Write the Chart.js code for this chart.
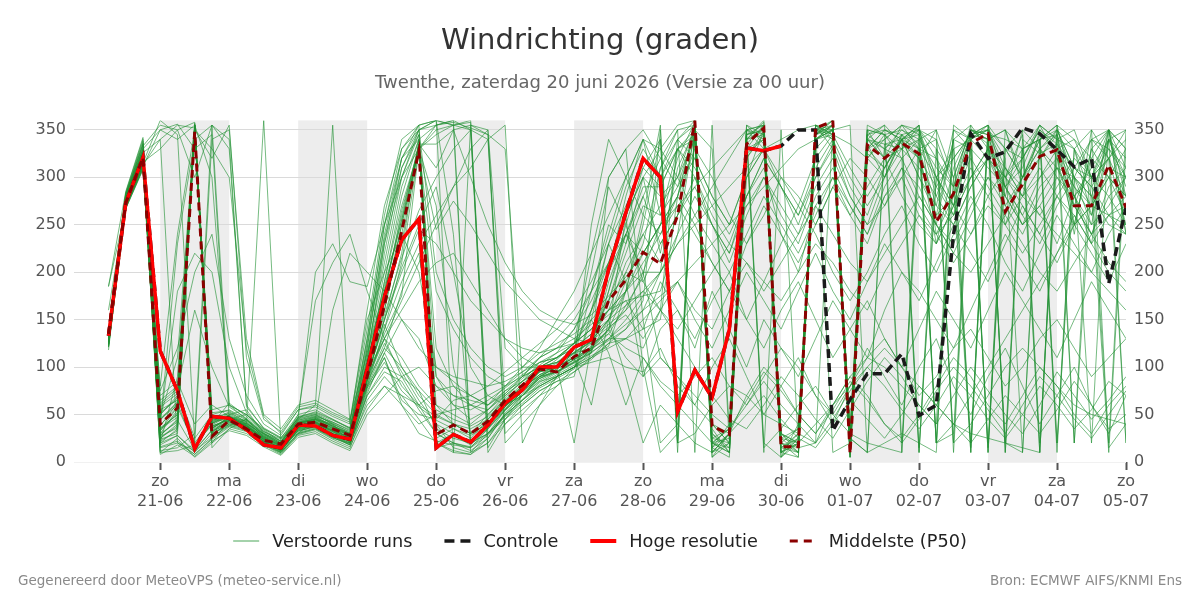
<!DOCTYPE html>
<html>
<head>
<meta charset="utf-8">
<script src="https://cdn.jsdelivr.net/npm/chart.js@4.4.1/dist/chart.umd.min.js"></script>
<style>
  html, body { margin: 0; padding: 0; background: #ffffff; }
  #wrap { position: relative; width: 1200px; height: 600px; }
  canvas { display: block; }
  .foot { position: absolute; top: 571px; font-family: 'DejaVu Sans', sans-serif; font-size: 13.5px; color: #8a8a8a; white-space: nowrap; line-height: 18px; }
  #footL { left: 18px; }
  #footR { right: 18px; }
</style>
</head>
<body>
<div id="wrap">
  <canvas id="c" width="1200" height="600"></canvas>
  <div class="foot" id="footL">Gegenereerd door MeteoVPS (meteo-service.nl)</div>
  <div class="foot" id="footR">Bron: ECMWF AIFS/KNMI Ens</div>
</div>
<script>
// ---- time axis: hours relative to zondag 21-06 00:00, 6-hourly steps ----
const startHour = -18;     // zaterdag 20-06 06:00
const stepHours = 6;
const nSteps = 60;
const hours = Array.from({length: nSteps}, (_, i) => startHour + i * stepHours);

// ---- x tick labels (one per day at 00:00) ----
const dayNames = ['zo','ma','di','wo','do','vr','za','zo','ma','di','wo','do','vr','za','zo'];
const dayDates = ['21-06','22-06','23-06','24-06','25-06','26-06','27-06','28-06','29-06','30-06','01-07','02-07','03-07','04-07','05-07'];
const shadedDays = [0, 2, 4, 6, 8, 10, 12];
const yTicks = [0, 50, 100, 150, 200, 250, 300, 350];

// ---- deterministic runs (degrees) ----
const hires = [133,273,321,117,75,14,48,46,34,18, 15,39,38,28,24,98,174,234,256,15, 29,21,39,62,76,100,100,121,129,203, 263,320,300,53,97,68,140,331,328,333];
const control = [133,273,321,117,75,14,48,46,34,18, 15,39,38,28,24,98,174,234,256,15, 29,21,39,62,76,100,100,121,129,203, 263,320,300,53,97,68,140,331,328,333, 350,350,33,66,93,93,114,49,60,240, 346,320,327,352,346,329,311,320,188,268];
const median = [135,273,321,40,57,348,27,44,35,23, 19,40,42,35,28,90,165,243,328,29, 39,30,43,65,81,98,95,111,120,170, 192,221,209,260,359,38,29,335,352,16, 16,352,359,9,334,320,336,325,253,283, 336,346,264,293,322,329,270,270,313,268];

// ---- perturbed ensemble members ----
const run01 = [130,275,322,30,55,350,35,48,40,22,12,38,42,30,22,100,180,260,335,25,35,25,45,68,85,105,110,125,150,230,290,330,300,340,355,20,15,345,350,10,25,350,355,15,340,330,350,335,20,300,350,345,10,330,340,355,280,310,340,20];
const run02 = [125,270,315,50,70,20,45,42,35,18,10,30,35,25,20,110,200,290,340,15,28,18,35,55,75,95,100,115,130,160,210,240,210,260,300,250,220,280,310,240,200,270,300,260,290,320,280,250,230,270,300,320,280,250,290,310,270,240,280,250];
const run03 = [135,280,330,350,340,355,300,60,45,25,15,40,45,35,28,90,150,220,340,355,360,350,340,60,70,90,100,110,120,140,160,200,250,320,358,30,10,330,355,20,15,345,360,5,325,310,345,320,260,340,15,355,290,320,350,335,20,300,330,300];
const run04 = [122,268,310,25,40,355,30,50,55,30,20,45,50,40,30,120,230,300,350,360,355,10,20,45,70,90,95,105,115,180,250,310,340,20,30,60,80,70,50,40,30,20,60,90,110,100,80,60,40,350,330,310,290,250,270,230,280,300,320,340];
const run05 = [140,282,335,65,80,350,55,60,50,35,25,50,55,45,35,130,250,330,355,40,15,10,30,50,70,85,90,100,110,125,130,140,150,280,350,10,30,350,340,5,20,355,350,25,10,335,340,350,300,260,340,350,320,10,330,345,300,20,350,280];
const run06 = [118,272,318,15,20,8,25,40,38,25,18,42,48,38,30,80,120,180,220,90,60,45,55,75,90,110,120,130,145,160,170,175,180,240,350,20,35,325,340,25,10,345,350,30,340,320,340,330,320,290,10,350,330,300,340,350,300,250,340,320];
const run07 = [130,277,326,340,355,352,15,35,45,28,18,32,38,28,18,70,100,90,60,30,20,12,25,50,65,80,90,100,120,190,240,200,110,90,60,40,30,70,100,80,50,30,60,90,70,40,25,50,80,110,90,60,40,70,100,80,50,30,60,80];
const run08 = [127,274,320,40,230,340,355,330,60,35,25,40,45,38,30,105,190,270,330,350,355,360,30,55,75,90,100,110,125,200,280,340,330,355,360,40,20,300,350,15,10,340,350,30,345,355,20,330,340,290,355,10,330,350,20,320,250,330,300,330];
const run09 = [132,279,328,20,90,350,40,52,42,24,14,36,40,33,26,85,160,240,335,30,40,30,50,70,85,100,105,120,135,170,220,270,260,290,320,280,250,300,330,290,260,310,340,300,270,300,330,310,280,250,290,320,300,270,240,280,310,290,260,280];
const run10 = [124,271,312,55,65,355,38,45,40,30,22,44,48,42,34,115,210,300,345,20,30,20,40,62,80,95,100,112,128,150,180,220,250,270,290,310,330,350,15,35,60,80,50,30,20,15,10,350,340,20,40,70,100,120,100,80,60,50,45,40];
const run11 = [128,276,320,35,50,348,42,50,40,360,20,30,45,40,20,60,80,70,60,75,80,70,60,75,85,100,105,115,120,130,130,150,20,40,350,15,5,340,358,30,20,355,345,10,330,350,340,15,300,320,345,355,270,300,340,10,330,260,350,240];
const run12 = [131,278,325,60,75,25,50,55,45,30,20,50,170,210,240,180,130,90,100,80,70,60,55,70,85,95,100,110,180,250,230,300,220,310,350,25,20,350,345,30,10,340,350,20,320,345,330,355,240,280,350,335,290,310,355,320,280,230,340,290];
const run13 = [126,273,316,330,350,358,20,45,50,32,24,46,200,230,190,185,250,300,330,60,40,30,45,65,80,90,95,105,250,340,300,260,240,280,250,210,180,230,270,240,210,250,290,260,230,280,310,270,240,260,300,330,290,260,230,270,300,280,250,240];
const run14 = [133,280,330,45,60,352,30,38,45,30,18,45,60,355,40,80,110,60,40,50,55,60,70,80,95,110,120,140,170,210,260,300,280,300,355,25,35,350,330,10,5,350,360,20,350,320,330,340,350,10,330,20,300,330,355,340,240,350,320,350];
const run15 = [129,275,321,70,85,40,60,48,38,26,16,42,45,160,220,200,180,150,120,100,90,85,80,85,95,105,110,120,130,145,160,180,200,230,250,270,290,310,330,340,350,355,345,335,320,300,340,355,20,40,70,100,130,160,190,220,250,270,260,250];
const run16 = [121,269,311,20,35,355,28,42,36,22,12,34,38,28,20,120,240,320,350,355,358,352,345,330,90,100,110,125,140,160,180,200,200,330,345,10,20,355,345,25,35,330,350,8,320,340,355,345,280,330,10,340,350,290,320,350,330,280,10,330];
const run17 = [136,283,338,10,25,5,20,35,30,18,8,28,32,22,14,65,90,70,45,20,12,8,20,40,55,70,80,95,110,130,150,175,200,230,260,290,320,350,355,10,20,40,60,80,100,120,100,80,60,40,30,25,20,15,10,355,340,320,300,280];
const run18 = [160,270,314,75,120,200,240,130,70,40,28,55,60,50,42,140,260,340,355,360,240,20,30,50,65,80,90,100,115,130,145,160,175,190,210,230,250,270,290,310,330,340,350,355,10,20,30,20,10,355,340,320,300,280,260,240,220,200,180,160];
const run19 = [134,281,333,355,350,300,355,60,50,34,22,48,52,44,36,100,190,280,340,15,20,15,35,58,78,92,98,108,118,135,165,195,310,350,355,35,10,340,20,5,40,345,355,12,335,300,345,330,230,310,350,340,20,340,325,335,310,300,340,350];
const run20 = [127,273,319,28,45,350,32,44,38,24,14,38,42,34,26,90,170,250,330,120,80,60,50,66,82,98,102,116,126,180,240,290,290,330,340,15,30,335,355,20,35,350,345,5,330,350,345,10,300,270,340,350,250,300,330,350,310,290,320,250];
const run21 = [129,274,317,38,62,356,44,47,36,21,11,33,37,27,19,75,110,65,50,45,65,70,80,95,110,125,140,160,190,230,270,310,290,330,300,260,230,280,320,290,250,300,330,280,250,300,340,300,260,280,320,290,260,300,330,300,270,240,290,310];
const run22 = [131,277,324,18,28,12,26,38,33,19,9,29,34,24,16,55,80,60,30,22,18,15,28,48,62,78,88,98,150,115,60,110,80,60,40,20,35,60,85,60,40,20,45,75,100,80,55,35,60,90,70,45,25,50,80,60,35,55,85,70];
const run23 = [126,272,313,48,110,350,330,300,120,48,30,55,58,48,40,160,270,330,350,360,355,358,10,40,60,75,85,95,108,125,140,170,350,10,358,20,25,345,350,30,15,20,350,5,340,335,330,350,320,270,345,350,310,280,350,20,300,340,330,310];
const run24 = [137,284,340,8,18,6,22,33,28,16,7,26,30,20,12,50,70,90,75,35,25,20,30,45,60,75,85,90,160,230,190,90,140,160,120,180,140,100,150,120,90,130,170,140,110,160,200,180,150,120,160,200,240,210,180,220,260,230,200,180];
const run25 = [185,267,309,80,240,350,320,355,110,45,32,58,62,52,44,150,200,240,200,100,85,70,60,80,100,120,150,180,220,260,300,340,260,330,350,5,30,320,345,20,10,340,355,35,350,345,10,320,250,340,355,330,300,345,10,340,350,300,20,350];
const run26 = [132,278,327,25,38,350,36,46,41,27,17,40,44,36,28,95,130,110,80,60,50,40,55,72,90,110,130,150,180,210,240,220,250,280,330,300,260,230,260,300,280,250,290,320,300,270,300,330,300,270,240,280,310,290,260,290,320,300,280,300];
const run27 = [128,275,319,12,15,30,355,340,58,36,26,46,50,40,32,110,220,310,345,20,10,8,25,52,70,88,95,108,122,140,180,250,340,20,350,10,30,340,10,350,20,345,355,10,345,350,340,355,20,340,330,15,350,330,340,355,20,340,350,310];
const run28 = [125,271,314,58,72,352,52,54,44,29,19,47,51,42,33,125,235,310,350,200,150,120,100,90,100,115,125,135,150,170,200,190,230,260,290,250,220,270,300,260,230,280,310,270,240,290,320,280,250,230,270,300,270,240,280,310,280,250,270,300];
const run29 = [134,280,331,33,58,18,39,49,37,23,13,37,41,31,24,85,120,100,70,50,40,35,45,62,78,92,100,110,60,150,90,20,60,40,20,10,30,50,70,45,25,15,40,65,45,25,50,80,60,40,20,45,70,50,30,55,85,60,35,50];
const run30 = [123,269,312,350,356,330,345,45,39,26,16,41,46,37,29,100,170,230,335,310,350,355,345,20,40,60,80,100,130,170,230,280,230,260,345,40,20,330,340,10,30,355,340,15,330,310,340,345,300,330,340,355,330,300,320,345,250,330,350,240];
const run31 = [127,273,320,22,33,355,29,41,39,21,10,31,36,26,18,70,95,85,55,30,20,16,30,49,66,84,94,104,118,150,190,230,310,340,320,280,250,300,330,300,270,320,345,310,280,310,340,320,290,260,300,330,310,280,300,330,300,270,300,280];
const run32 = [185,285,342,42,180,220,200,100,52,33,21,43,47,39,27,88,150,200,245,230,200,170,150,130,120,115,120,125,140,155,170,140,190,160,130,170,200,150,120,160,190,150,110,140,170,130,100,140,180,150,120,160,200,170,140,110,150,190,160,130];
const run33 = [126,274,318,35,47,353,37,46,43,27,17,40,46,38,30,105,230,320,355,360,10,355,350,30,50,70,90,100,110,120,130,120,160,340,360,15,40,350,355,20,5,340,345,30,355,345,320,10,330,300,350,345,280,350,330,310,300,280,340,300];
const run34 = [130,276,323,16,22,8,24,37,32,20,10,30,35,26,18,72,115,150,130,80,60,55,65,78,92,105,115,125,220,300,330,150,170,190,160,140,180,210,190,170,200,230,210,180,160,200,230,260,240,210,240,270,250,220,250,280,260,230,260,240];
const run35 = [124,270,313,340,20,12,34,44,37,24,14,36,42,33,25,80,140,210,330,355,360,20,40,58,74,88,98,108,118,140,110,90,110,90,70,50,35,65,95,75,50,30,55,85,65,40,20,45,75,100,80,55,30,60,90,70,45,25,50,75];
const run36 = [133,279,329,50,68,349,47,51,41,28,18,44,49,41,31,100,160,250,330,270,100,30,40,60,78,95,108,125,160,210,260,300,330,300,340,20,10,355,335,30,20,350,350,10,340,320,355,330,270,350,340,10,330,320,355,340,330,300,320,280];
const run37 = [129,275,320,10,12,18,40,62,48,32,22,42,45,36,28,90,130,170,210,250,290,330,350,120,100,100,110,125,140,160,180,210,240,270,240,210,180,150,190,230,270,240,200,170,200,240,270,230,200,240,280,250,210,180,220,260,230,200,240,270];
const run38 = [131,277,325,30,42,355,33,39,34,22,12,34,39,29,21,78,115,80,60,48,40,30,40,56,74,90,100,20,124,138,260,100,10,30,345,5,20,340,360,15,25,350,10,20,345,330,320,340,20,30,350,340,20,10,340,20,330,350,15,40];
const run39 = [122,268,310,62,78,160,100,58,46,31,20,47,53,45,36,130,250,320,340,90,70,65,60,72,88,102,115,140,180,240,300,340,300,330,310,270,240,280,320,290,260,300,335,290,260,310,340,300,270,250,290,320,290,260,300,320,290,260,310,300];
const run40 = [135,281,334,27,36,351,35,47,44,29,19,41,44,35,27,98,175,265,330,180,140,110,90,80,90,100,105,115,128,142,155,130,160,190,150,120,160,200,170,140,180,220,180,150,190,230,200,170,210,250,220,190,230,270,240,210,250,220,190,230];
const run41 = [128,274,318,33,52,354,38,44,36,21,11,35,40,30,22,85,140,190,230,260,290,310,340,355,20,60,90,120,160,200,240,280,320,350,10,355,20,340,345,15,30,345,360,25,10,330,345,350,330,20,345,340,350,300,345,330,290,270,350,330];
const run42 = [126,272,316,46,62,16,41,49,39,25,15,39,43,34,26,92,145,100,75,55,45,38,48,64,80,96,104,118,200,290,250,190,160,130,100,70,45,35,60,90,70,45,25,55,85,110,90,60,40,70,100,75,50,30,60,95,70,45,65,90];
const run43 = [132,278,326,24,30,350,31,43,40,26,16,39,43,32,24,82,125,95,65,40,30,22,35,54,72,88,96,106,116,128,140,160,200,240,280,250,210,260,300,270,240,290,320,280,250,270,310,290,250,220,260,300,280,250,270,300,280,240,260,270];
const run44 = [125,271,315,360,345,20,340,350,130,50,35,60,65,55,45,115,180,255,330,345,355,350,15,45,65,82,92,102,112,122,180,260,355,20,355,30,15,320,350,5,25,350,340,10,340,355,335,320,350,300,20,345,340,330,10,350,310,340,320,20];
const run45 = [130,276,322,36,50,357,36,45,38,23,13,36,41,32,24,88,135,175,330,245,275,250,220,190,170,150,140,130,125,135,120,110,85,70,90,110,80,60,90,120,100,70,50,80,110,130,100,70,90,120,140,110,80,100,130,150,120,90,110,130];
const run46 = [121,267,308,52,66,350,46,48,37,24,14,38,42,33,25,95,155,215,265,300,330,350,40,58,76,92,102,114,128,150,200,240,270,300,260,230,200,240,280,250,220,260,300,270,240,280,300,260,230,270,310,280,250,280,310,280,250,270,300,260];
const run47 = [136,282,336,20,28,10,30,40,35,22,12,33,37,28,20,78,105,75,58,44,35,28,38,55,70,86,95,105,115,300,330,350,320,290,350,330,35,345,355,25,20,355,330,20,350,345,350,340,310,290,345,350,300,320,350,330,340,300,350,330];
const run48 = [127,273,318,39,58,349,41,47,38,24,14,37,41,32,23,90,150,205,250,290,200,100,70,60,70,80,90,100,105,110,100,95,120,80,60,100,130,90,50,80,110,70,40,80,120,90,60,100,130,80,50,90,120,80,40,70,100,60,30,70];
const run49 = [133,279,327,44,64,352,43,53,42,27,17,41,47,37,29,105,185,255,335,335,350,300,250,210,180,160,150,145,155,175,195,220,250,280,355,20,10,340,350,10,20,340,355,15,330,340,355,350,290,320,345,355,10,330,340,345,270,320,350,260];
const run50 = [124,270,314,28,44,13,33,43,36,22,12,35,39,30,22,86,130,160,190,210,220,190,160,130,110,100,110,120,135,150,165,180,160,140,170,200,230,210,180,210,240,270,240,210,190,220,250,280,250,220,200,230,260,230,200,180,210,240,210,190];

const runs = [run01,run02,run03,run04,run05,run06,run07,run08,run09,run10,
              run11,run12,run13,run14,run15,run16,run17,run18,run19,run20,
              run21,run22,run23,run24,run25,run26,run27,run28,run29,run30,
              run31,run32,run33,run34,run35,run36,run37,run38,run39,run40,
              run41,run42,run43,run44,run45,run46,run47,run48,run49,run50];

// ---- styles ----
const FONT = "'DejaVu Sans', 'Liberation Sans', sans-serif";
const memberColor = 'rgba(34,145,52,0.62)';
const legendNames = ['Verstoorde runs', 'Controle', 'Hoge resolutie', 'Middelste (P50)'];
const legendStyles = [
  { color: 'rgba(34,145,52,0.55)', width: 1.5, dash: [] },
  { color: '#1a1a1a', width: 3.5, dash: [10, 6] },
  { color: '#ff0000', width: 4, dash: [] },
  { color: '#8b0000', width: 3, dash: [8, 6] }
];

const datasets = [];
datasets.push({ label: legendNames[3], data: median, borderColor: '#8b0000', borderWidth: 3, borderDash: [8, 5], order: 0 });
datasets.push({ label: legendNames[2], data: hires, borderColor: '#ff0000', borderWidth: 3.5, order: 1 });
datasets.push({ label: legendNames[1], data: control, borderColor: '#1a1a1a', borderWidth: 3.5, borderDash: [9, 5], order: 2 });
runs.forEach((r, k) => {
  datasets.push({ label: legendNames[0], data: r, borderColor: memberColor, borderWidth: 1, order: 3 + k });
});

const shadePlugin = {
  id: 'dayShade',
  beforeDraw(chart) {
    const {ctx, chartArea, scales} = chart;
    const x = scales.x;
    ctx.save();
    ctx.fillStyle = '#ededed';
    shadedDays.forEach(d => {
      const x0 = x.getPixelForValue(d * 24);
      const x1 = x.getPixelForValue((d + 1) * 24);
      ctx.fillRect(x0, chartArea.top, x1 - x0, chartArea.bottom - chartArea.top);
    });
    ctx.restore();
  }
};

const legendPlugin = {
  id: 'lineLegend',
  afterDraw(chart) {
    const ctx = chart.ctx;
    const sw = 26, gap = 13, itemGap = 32, y = 541;
    ctx.save();
    ctx.font = '17.7px ' + FONT;
    const widths = legendNames.map(t => ctx.measureText(t).width);
    const total = widths.reduce((a, w) => a + sw + gap + w, 0) + itemGap * (legendNames.length - 1);
    let x = chart.width / 2 - total / 2;
    legendNames.forEach((t, i) => {
      const st = legendStyles[i];
      ctx.beginPath();
      ctx.setLineDash(st.dash);
      ctx.lineWidth = st.width;
      ctx.strokeStyle = st.color;
      ctx.lineCap = 'butt';
      ctx.moveTo(x, y);
      ctx.lineTo(x + sw, y);
      ctx.stroke();
      ctx.setLineDash([]);
      ctx.fillStyle = '#222222';
      ctx.textBaseline = 'middle';
      ctx.textAlign = 'left';
      ctx.fillText(t, x + sw + gap, y + 1);
      x += sw + gap + widths[i] + itemGap;
    });
    ctx.restore();
  }
};

const yAxis = (pos) => ({
  type: 'linear',
  position: pos,
  min: 0,
  max: 360,
  afterBuildTicks: ax => { ax.ticks = yTicks.map(v => ({value: v})); },
  afterFit: ax => { ax.width = 74; },
  grid: {
    display: true,
    drawOnChartArea: pos === 'left',
    drawTicks: false,
    color: c => (c.tick && c.tick.value === 0) ? '#f1f1f1' : '#dadada',
    lineWidth: 1
  },
  border: { display: false },
  ticks: { padding: 8, color: '#555555', font: { family: FONT, size: 16 } }
});

new Chart(document.getElementById('c'), {
  type: 'line',
  data: { labels: hours, datasets },
  plugins: [shadePlugin, legendPlugin],
  options: {
    responsive: false,
    animation: false,
    devicePixelRatio: 1,
    layout: { padding: { left: 0, right: 0, top: 0, bottom: 86 } },
    elements: { point: { radius: 0 }, line: { tension: 0, fill: false } },
    events: [],
    scales: {
      x: {
        type: 'linear',
        min: -30,
        max: 336,
        afterBuildTicks: ax => { ax.ticks = dayDates.map((_, i) => ({value: i * 24})); },
        afterFit: ax => { ax.height = 52; },
        grid: { display: true, drawOnChartArea: false, drawTicks: true, tickLength: 8, tickColor: '#555555', tickWidth: 2 },
        border: { display: false },
        ticks: {
          padding: 1,
          maxRotation: 0,
          autoSkip: false,
          color: '#555555',
          font: { family: FONT, size: 16, lineHeight: 1.3 },
          callback: (v) => { const i = Math.round(v / 24); return [dayNames[i], dayDates[i]]; }
        }
      },
      y: yAxis('left'),
      y2: yAxis('right')
    },
    plugins: {
      title: {
        display: true,
        text: 'Windrichting (graden)',
        color: '#333333',
        font: { family: FONT, size: 29, weight: 'normal', lineHeight: 1.2 },
        padding: { top: 24, bottom: 8 }
      },
      subtitle: {
        display: true,
        text: 'Twenthe, zaterdag 20 juni 2026 (Versie za 00 uur)',
        color: '#666666',
        font: { family: FONT, size: 18, weight: 'normal', lineHeight: 1.2 },
        padding: { top: 6, bottom: 26 }
      },
      legend: { display: false },
      tooltip: { enabled: false }
    }
  }
});
</script>
</body>
</html>
